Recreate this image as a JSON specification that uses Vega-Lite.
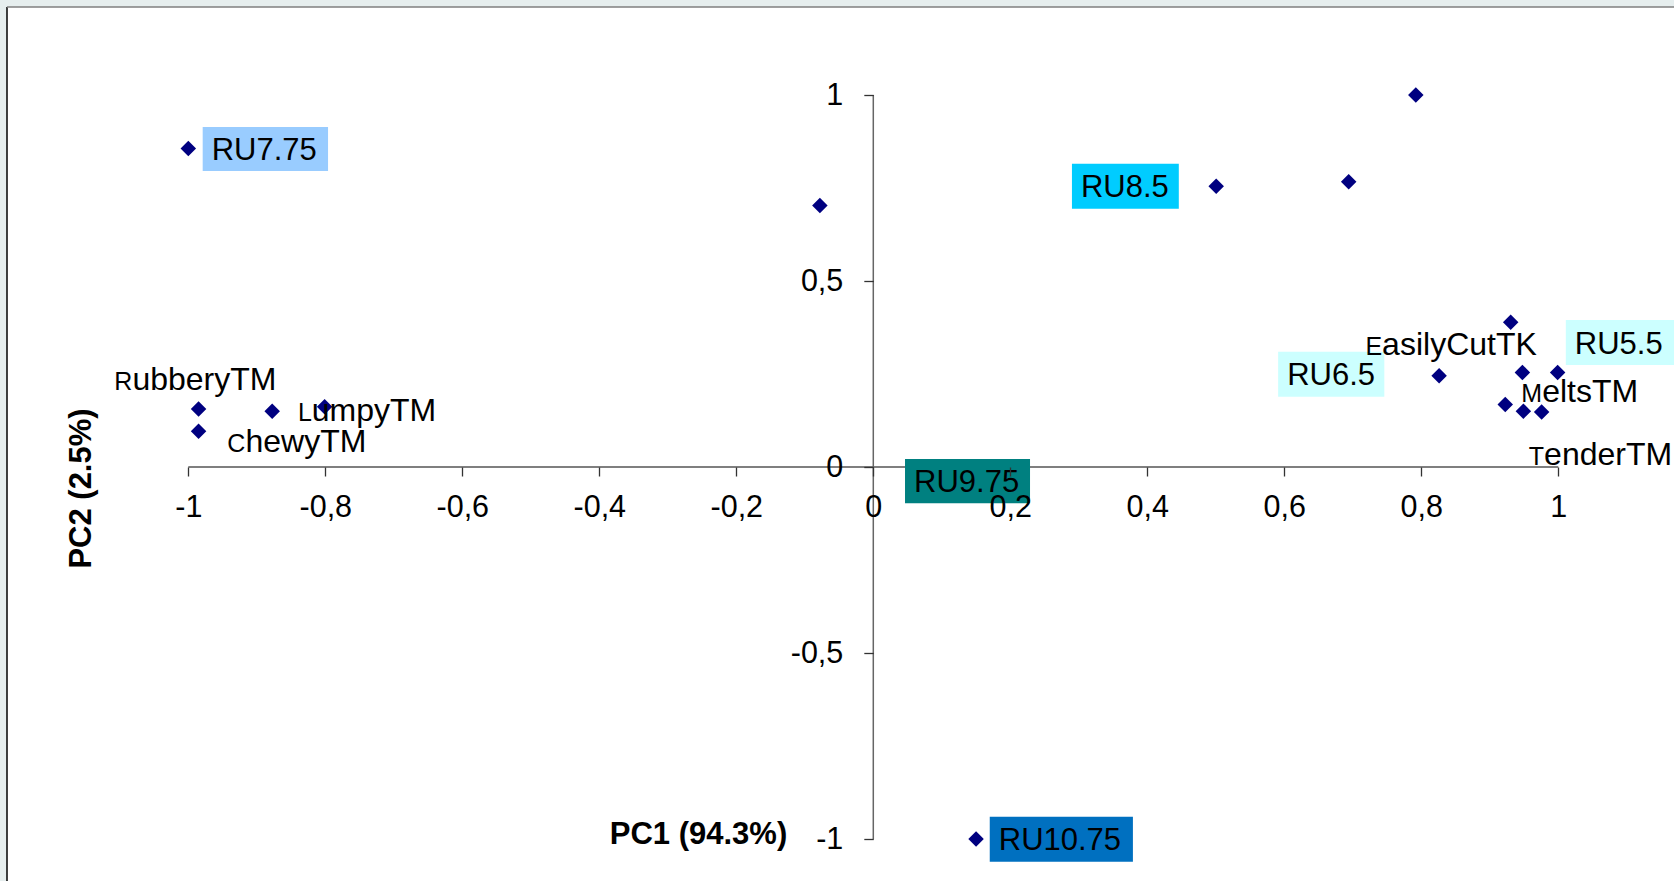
{
  "$schema": "https://vega.github.io/schema/vega-lite/v6.json",
  "width": 1667,
  "height": 874,
  "autosize": {"type": "none"},
  "padding": {"left": 7, "top": 7, "right": 0, "bottom": 0},
  "background": "#e6eeee",
  "config": {"view": {"fill": "white", "stroke": null}, "font": "Liberation Sans"},
  "datasets": {
    "points": [
      {"pc1": -1.0, "pc2": 0.856},
      {"pc1": -0.985, "pc2": 0.156},
      {"pc1": -0.985, "pc2": 0.096},
      {"pc1": -0.8775, "pc2": 0.150},
      {"pc1": -0.801, "pc2": 0.162},
      {"pc1": -0.078, "pc2": 0.703},
      {"pc1": 0.5006, "pc2": 0.755},
      {"pc1": 0.694, "pc2": 0.767},
      {"pc1": 0.792, "pc2": 1.0},
      {"pc1": 0.826, "pc2": 0.245},
      {"pc1": 0.9305, "pc2": 0.389},
      {"pc1": 0.9476, "pc2": 0.254},
      {"pc1": 0.999, "pc2": 0.254},
      {"pc1": 0.9226, "pc2": 0.168},
      {"pc1": 0.949, "pc2": 0.150},
      {"pc1": 0.9757, "pc2": 0.148},
      {"pc1": 0.15, "pc2": -1.0},
      {"pc1": 0.12, "pc2": -0.038}
    ],
    "attributes": [
      {"first": "R", "rest": "ubberyTM", "lx": -1.0816, "ly": 0.2366},
      {"first": "C", "rest": "hewyTM", "lx": -0.9166, "ly": 0.070},
      {"first": "L", "rest": "umpyTM", "lx": -0.8197, "ly": 0.153},
      {"first": "E", "rest": "asilyCutTK", "lx": 0.7428, "ly": 0.331},
      {"first": "M", "rest": "eltsTM", "lx": 0.9764, "ly": 0.205},
      {"first": "T", "rest": "enderTM", "lx": 0.9793, "ly": 0.036}
    ],
    "samples": [
      {"name": "RU7.75", "bx1": -0.979, "bx2": -0.796, "by1": 0.914, "by2": 0.796, "ly": 0.855},
      {"name": "RU8.5", "bx1": 0.290, "bx2": 0.446, "by1": 0.815, "by2": 0.694, "ly": 0.7545},
      {"name": "RU6.5", "bx1": 0.591, "bx2": 0.746, "by1": 0.310, "by2": 0.189, "ly": 0.2495},
      {"name": "RU5.5", "bx1": 1.011, "bx2": 1.17, "by1": 0.395, "by2": 0.274, "ly": 0.3345},
      {"name": "RU9.75", "bx1": 0.0463, "bx2": 0.2288, "by1": 0.0215, "by2": -0.0976, "ly": -0.038},
      {"name": "RU10.75", "bx1": 0.170, "bx2": 0.379, "by1": -0.940, "by2": -1.061, "ly": -1.0005}
    ],
    "one": [{"k": 1}]
  },
  "layer": [
    {
      "data": {"name": "points"},
      "mark": {"type": "point", "shape": "diamond", "filled": true, "size": 240, "color": "#000080", "opacity": 0},
      "encoding": {
        "x": {
          "field": "pc1", "type": "quantitative",
          "scale": {"domain": [-1.26467, 1.16891], "nice": false, "zero": false},
          "axis": {
            "values": [-1, -0.8, -0.6, -0.4, -0.2, 0, 0.2, 0.4, 0.6, 0.8, 1],
            "offset": -414,
            "domain": false,
            "grid": false,
            "ticks": true,
            "tickSize": 9,
            "tickColor": "#333333",
            "tickWidth": 1.3,
            "labelFontSize": 30.5,
            "labelColor": "#000000",
            "labelPadding": 16,
            "labelFlush": false,
            "labelOverlap": false,
            "labelExpr": "replace(datum.value + '', '.', ',')",
            "title": "PC1 (94.3%)",
            "titleFontSize": 31,
            "titleFontWeight": "bold",
            "titleColor": "#000000",
            "titleX": 691,
            "titleY": 367,
            "titleAlign": "center",
            "titleBaseline": "middle",
            "zindex": 1
          }
        },
        "y": {
          "field": "pc2", "type": "quantitative",
          "scale": {"domain": [-1.1129, 1.23656], "nice": false, "zero": false},
          "axis": {
            "values": [-1, -0.5, 0, 0.5, 1],
            "offset": -866.3,
            "domain": false,
            "grid": false,
            "ticks": true,
            "tickSize": 9.5,
            "tickColor": "#333333",
            "tickWidth": 1.3,
            "labelFontSize": 30.5,
            "labelColor": "#000000",
            "labelPadding": 21,
            "labelFlush": false,
            "labelOverlap": false,
            "labelExpr": "replace(datum.value + '', '.', ',')",
            "title": "PC2 (2.5%)",
            "titleFontSize": 31,
            "titleFontWeight": "bold",
            "titleColor": "#000000",
            "titleX": -791.5,
            "titleY": 481,
            "titleAngle": 270,
            "titleAlign": "center",
            "titleBaseline": "middle",
            "zindex": 1
          }
        }
      }
    },
    {
      "data": {"name": "one"},
      "mark": {"type": "rule", "color": "#000000", "strokeWidth": 1.5},
      "encoding": {
        "x": {"datum": -1.26467, "type": "quantitative"}
      }
    },
    {
      "data": {"name": "one"},
      "mark": {"type": "rule", "color": "#7f7f7f", "strokeWidth": 1.5},
      "encoding": {
        "y": {"datum": 1.23656, "type": "quantitative"}
      }
    },
    {
      "data": {"name": "one"},
      "mark": {"type": "rule", "color": "#555555", "strokeWidth": 1.5},
      "encoding": {
        "x": {"datum": -1, "type": "quantitative"},
        "x2": {"datum": 1},
        "y": {"datum": 0, "type": "quantitative"}
      }
    },
    {
      "data": {"name": "one"},
      "mark": {"type": "rule", "color": "#666666", "strokeWidth": 1.5},
      "encoding": {
        "x": {"datum": 0, "type": "quantitative"},
        "y": {"datum": -1, "type": "quantitative"},
        "y2": {"datum": 1}
      }
    },
    {
      "data": {"name": "points"},
      "mark": {"type": "point", "shape": "diamond", "filled": true, "size": 240, "color": "#000080", "opacity": 1},
      "encoding": {
        "x": {"field": "pc1", "type": "quantitative"},
        "y": {"field": "pc2", "type": "quantitative"}
      }
    },
    {
      "data": {"name": "samples"},
      "mark": {"type": "rect"},
      "encoding": {
        "x": {"field": "bx1", "type": "quantitative"},
        "x2": {"field": "bx2"},
        "y": {"field": "by1", "type": "quantitative"},
        "y2": {"field": "by2"},
        "color": {
          "field": "name", "type": "nominal", "legend": null,
          "scale": {
            "domain": ["RU7.75", "RU8.5", "RU6.5", "RU5.5", "RU9.75", "RU10.75"],
            "range": ["#99ccff", "#00ccff", "#ccffff", "#ccffff", "#008080", "#0070c0"]
          }
        }
      }
    },
    {
      "data": {"name": "samples"},
      "mark": {"type": "text", "align": "left", "baseline": "middle", "dx": 9, "dy": 2, "fontSize": 31, "color": "#000000"},
      "encoding": {
        "x": {"field": "bx1", "type": "quantitative"},
        "y": {"field": "ly", "type": "quantitative"},
        "text": {"field": "name"}
      }
    },
    {
      "data": {"name": "attributes"},
      "mark": {"type": "text", "align": "right", "baseline": "alphabetic", "dy": 11, "fontSize": 25, "color": "#000000"},
      "encoding": {
        "x": {"field": "lx", "type": "quantitative"},
        "y": {"field": "ly", "type": "quantitative"},
        "text": {"field": "first"}
      }
    },
    {
      "data": {"name": "attributes"},
      "mark": {"type": "text", "align": "left", "baseline": "alphabetic", "dy": 11, "fontSize": 32, "color": "#000000"},
      "encoding": {
        "x": {"field": "lx", "type": "quantitative"},
        "y": {"field": "ly", "type": "quantitative"},
        "text": {"field": "rest"}
      }
    }
  ]
}
